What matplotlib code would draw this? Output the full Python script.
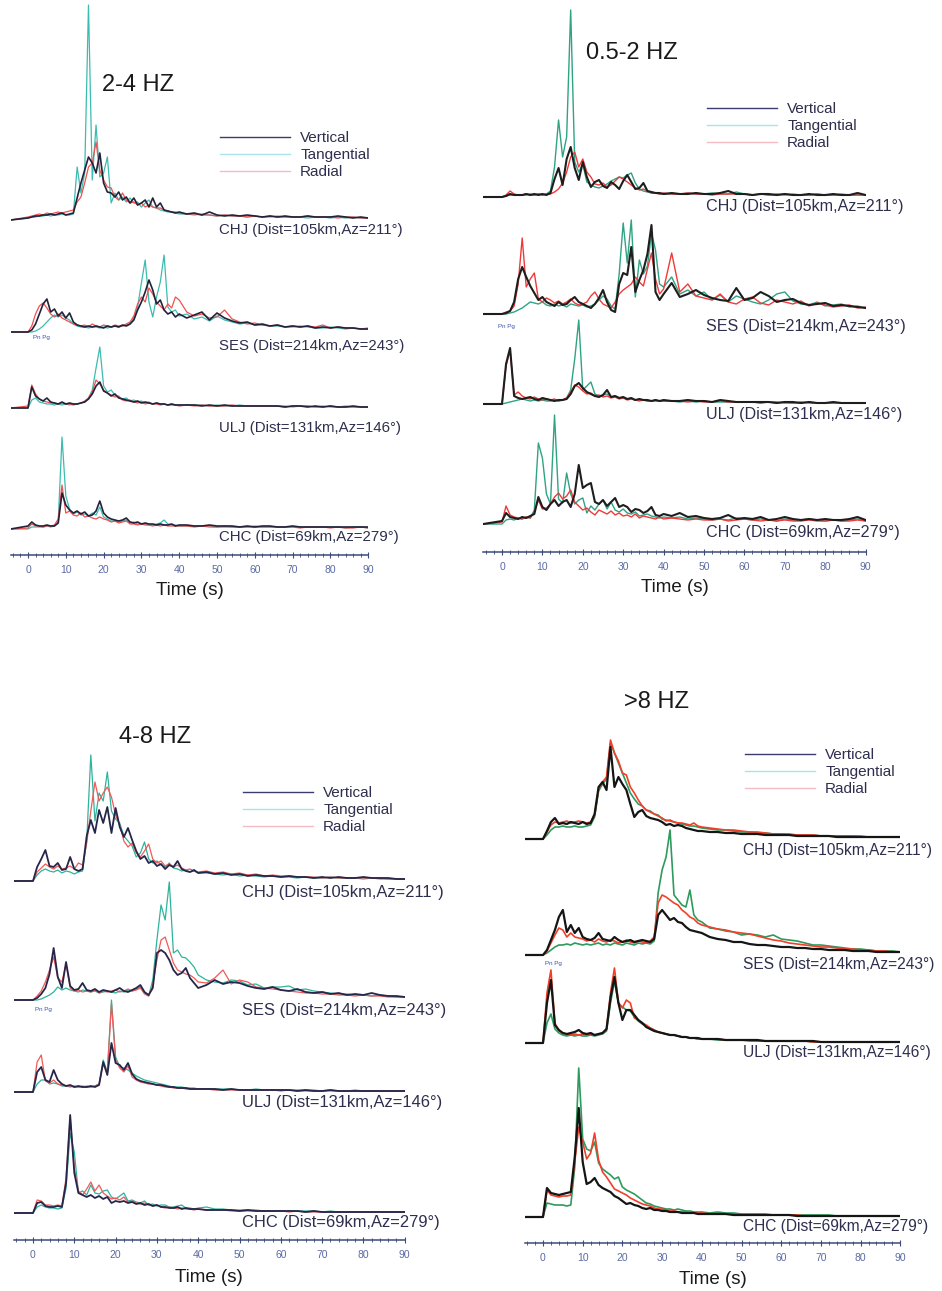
import matplotlib
matplotlib.use("Agg")
import matplotlib.pyplot as plt
from matplotlib.lines import Line2D
from matplotlib.ticker import MultipleLocator

plt.rcParams["font.family"] = ["Liberation Sans", "DejaVu Sans"]

W, H = 942, 1291

# sample times (s): 1 s steps up to 40 s, then 2 s steps
TIME = list(range(0, 41)) + list(range(42, 91, 2))
T_START = -4.6
T_END = 90
TICKS = list(range(0, 91, 10))

STATIONS = ["CHJ", "SES", "ULJ", "CHC"]
STATION_TEXT = ["CHJ (Dist=105km,Az=211°)", "SES (Dist=214km,Az=243°)",
                "ULJ (Dist=131km,Az=146°)", "CHC (Dist=69km,Az=279°)"]
COMPONENTS = ["Vertical", "Tangential", "Radial"]

# envelope amplitudes, 2-4 Hz
B24_CHJ_V = [2, 3, 4, 4, 5, 5, 6, 5, 6, 7, 5, 6, 7, 22, 37, 50, 63, 57, 47, 67, 37, 28, 27, 23, 28, 20, 23, 17, 22, 15, 17, 20, 13, 22, 13, 17, 10, 9, 8, 7, 8,
             6, 7, 5, 8, 5, 4, 5, 4, 5, 4, 3, 4, 3, 4, 3, 3, 4, 3, 3, 3, 4, 3, 2, 3, 2]
B24_CHJ_T = [2, 3, 3, 4, 4, 5, 4, 5, 5, 6, 5, 5, 6, 53, 27, 47, 215, 40, 95, 43, 47, 63, 17, 27, 20, 23, 18, 22, 17, 18, 13, 17, 20, 13, 12, 10, 9, 8, 8, 7, 6,
             6, 5, 6, 5, 4, 5, 4, 4, 3, 4, 3, 3, 4, 3, 3, 3, 2, 3, 3, 2, 3, 2, 3, 2, 2]
B24_CHJ_R = [3, 4, 5, 6, 5, 7, 6, 7, 8, 7, 8, 9, 10, 18, 23, 37, 53, 57, 78, 50, 40, 33, 32, 23, 20, 27, 20, 17, 18, 15, 17, 13, 15, 13, 12, 12, 10, 9, 8, 8, 7,
             6, 6, 5, 5, 4, 5, 4, 4, 3, 4, 3, 4, 3, 3, 3, 3, 4, 3, 3, 3, 2, 3, 3, 2, 2]
B24_SES_V = [0, 2, 8, 18, 28, 33, 20, 23, 16, 20, 14, 19, 10, 7, 6, 5, 6, 5, 6, 5, 4, 6, 5, 6, 5, 7, 6, 8, 12, 22, 30, 40, 52, 42, 28, 32, 22, 18, 20, 15, 18,
             14, 17, 20, 12, 19, 14, 11, 9, 10, 7, 8, 6, 7, 5, 6, 5, 6, 4, 5, 4, 5, 4, 4, 3, 3]
B24_SES_T = [0, 0, 1, 3, 6, 10, 14, 17, 15, 17, 14, 12, 8, 6, 5, 5, 4, 5, 5, 4, 5, 4, 5, 6, 5, 6, 7, 8, 14, 25, 49, 72, 30, 15, 35, 50, 77, 25, 20, 22, 16,
             18, 13, 15, 11, 16, 12, 10, 8, 9, 7, 7, 6, 6, 5, 5, 6, 5, 4, 4, 5, 4, 3, 4, 3, 3]
B24_SES_R = [0, 6, 18, 26, 29, 24, 18, 15, 18, 14, 12, 10, 8, 7, 6, 7, 5, 8, 6, 5, 7, 6, 5, 7, 6, 6, 8, 10, 16, 28, 35, 30, 44, 38, 30, 26, 22, 28, 24, 35, 32,
             20, 16, 18, 14, 15, 22, 13, 10, 8, 9, 7, 6, 7, 5, 6, 5, 6, 5, 7, 4, 5, 4, 4, 3, 4]
B24_ULJ_V = [0, 21, 12, 9, 7, 10, 6, 5, 4, 6, 4, 5, 4, 4, 5, 6, 9, 14, 22, 26, 17, 15, 12, 14, 10, 9, 8, 7, 6, 7, 5, 6, 5, 4, 5, 4, 4, 3, 4, 3, 3,
             3, 3, 2, 3, 2, 3, 2, 2, 2, 2, 2, 2, 2, 1, 2, 2, 1, 2, 1, 2, 1, 1, 2, 1, 1]
B24_ULJ_T = [0, 8, 10, 6, 5, 4, 4, 3, 4, 3, 4, 3, 4, 4, 5, 6, 10, 18, 40, 61, 22, 16, 18, 13, 11, 9, 10, 7, 8, 6, 7, 5, 6, 4, 5, 4, 4, 3, 4, 3, 3,
             3, 3, 3, 2, 3, 2, 2, 3, 2, 2, 2, 2, 2, 2, 1, 2, 2, 1, 2, 1, 1, 2, 1, 1, 1]
B24_ULJ_R = [2, 23, 14, 9, 7, 6, 5, 5, 4, 5, 4, 4, 3, 4, 5, 7, 10, 16, 28, 24, 18, 15, 13, 11, 12, 8, 7, 8, 6, 5, 6, 4, 5, 4, 4, 3, 4, 3, 3, 3, 2,
             3, 2, 3, 2, 2, 2, 3, 2, 2, 2, 2, 2, 2, 1, 2, 2, 2, 1, 1, 2, 1, 1, 1, 1, 1]
B24_CHC_V = [3, 7, 4, 3, 3, 4, 3, 3, 6, 36, 24, 19, 16, 18, 15, 17, 13, 14, 18, 28, 16, 12, 10, 9, 8, 9, 11, 7, 6, 7, 5, 6, 5, 5, 4, 5, 4, 4, 5, 3, 4,
             4, 3, 3, 4, 3, 3, 3, 2, 3, 2, 3, 3, 2, 2, 3, 2, 2, 2, 2, 2, 2, 2, 2, 2, 2]
B24_CHC_T = [0, 2, 2, 2, 2, 3, 2, 3, 8, 92, 33, 20, 15, 17, 14, 15, 13, 16, 14, 22, 12, 10, 8, 8, 7, 8, 9, 6, 7, 5, 5, 5, 4, 4, 5, 6, 9, 5, 4, 4, 3,
             3, 3, 3, 3, 2, 3, 2, 2, 2, 3, 2, 2, 2, 2, 2, 2, 2, 2, 2, 2, 2, 1, 2, 2, 1]
B24_CHC_R = [1, 5, 3, 3, 2, 3, 3, 4, 10, 44, 16, 18, 14, 13, 16, 12, 13, 11, 10, 12, 10, 9, 7, 8, 6, 7, 8, 5, 5, 4, 5, 4, 4, 3, 4, 3, 4, 3, 3, 3, 3,
             3, 2, 3, 2, 2, 2, 2, 2, 2, 2, 2, 2, 2, 2, 2, 1, 2, 2, 2, 1, 2, 1, 1, 2, 1]

# envelope amplitudes, 0.5-2 Hz
B05_CHJ_V = [0, 1, 3, 2, 2, 2, 3, 2, 3, 2, 3, 2, 4, 18, 29, 12, 38, 50, 29, 17, 35, 20, 10, 15, 17, 11, 9, 15, 12, 8, 16, 22, 15, 8, 9, 14, 6, 5, 4, 4, 3,
             4, 3, 3, 4, 3, 3, 4, 6, 3, 3, 2, 3, 3, 2, 3, 2, 2, 3, 2, 2, 3, 2, 2, 4, 2]
B05_CHJ_T = [0, 1, 2, 2, 2, 2, 2, 3, 2, 3, 2, 3, 6, 30, 77, 40, 60, 187, 35, 25, 33, 15, 12, 10, 9, 11, 13, 16, 18, 20, 19, 22, 24, 14, 8, 6, 5, 4, 4, 3, 3,
             3, 3, 4, 3, 3, 4, 3, 3, 5, 3, 2, 3, 2, 3, 2, 3, 2, 2, 3, 2, 2, 3, 2, 2, 2]
B05_CHJ_R = [0, 2, 6, 3, 2, 2, 3, 2, 2, 3, 2, 3, 3, 5, 8, 14, 25, 40, 45, 30, 38, 25, 20, 13, 12, 14, 10, 12, 16, 20, 18, 15, 12, 9, 7, 8, 6, 4, 4, 3, 4,
             3, 3, 4, 3, 3, 2, 3, 3, 3, 3, 2, 3, 2, 2, 3, 2, 2, 2, 3, 2, 2, 2, 2, 2, 2]
B05_SES_V = [0, 1, 3, 12, 35, 47, 37, 28, 21, 14, 17, 12, 10, 8, 12, 9, 10, 14, 17, 12, 10, 8, 6, 10, 16, 24, 12, 4, 2, 30, 41, 39, 67, 22, 34, 44, 60, 89, 22, 14, 20,
             31, 17, 20, 24, 19, 16, 14, 13, 26, 14, 16, 22, 18, 12, 14, 15, 11, 9, 10, 11, 8, 9, 8, 7, 6]
B05_SES_T = [0, 0, 1, 2, 4, 6, 9, 12, 11, 10, 12, 9, 8, 10, 8, 9, 7, 10, 9, 8, 9, 7, 8, 10, 14, 18, 15, 8, 5, 40, 91, 51, 94, 17, 54, 40, 48, 81, 64, 30, 27,
             37, 20, 24, 18, 22, 14, 19, 12, 18, 15, 12, 10, 14, 20, 22, 13, 10, 9, 12, 8, 9, 10, 7, 8, 6]
B05_SES_R = [0, 2, 3, 8, 30, 76, 27, 35, 41, 15, 12, 16, 14, 11, 13, 10, 12, 15, 11, 9, 10, 12, 18, 22, 15, 10, 8, 6, 12, 20, 24, 27, 30, 37, 32, 28, 45, 61, 35, 20, 25,
             61, 22, 30, 18, 16, 14, 20, 12, 10, 15, 17, 11, 9, 14, 12, 10, 13, 8, 11, 9, 7, 8, 9, 6, 7]
B05_ULJ_V = [0, 40, 56, 8, 6, 5, 6, 7, 5, 4, 6, 5, 4, 3, 4, 4, 5, 10, 18, 21, 16, 12, 10, 8, 7, 9, 14, 7, 8, 6, 7, 5, 6, 4, 5, 4, 4, 3, 4, 3, 4,
             3, 3, 4, 3, 3, 2, 4, 3, 2, 2, 2, 2, 2, 1, 2, 2, 1, 2, 1, 1, 2, 1, 1, 1, 1]
B05_ULJ_T = [0, 1, 2, 3, 4, 5, 4, 3, 4, 3, 4, 3, 3, 4, 3, 4, 6, 14, 45, 84, 14, 18, 22, 10, 8, 9, 10, 7, 8, 6, 6, 5, 5, 4, 4, 4, 3, 3, 3, 3, 3,
             3, 2, 3, 2, 3, 2, 2, 2, 2, 2, 2, 1, 2, 1, 2, 1, 1, 2, 1, 1, 1, 1, 1, 1, 1]
B05_ULJ_R = [0, 38, 54, 9, 12, 8, 6, 5, 7, 5, 4, 5, 4, 5, 3, 4, 6, 12, 19, 17, 13, 10, 11, 8, 9, 7, 8, 6, 7, 5, 6, 4, 5, 4, 3, 4, 3, 3, 4, 3, 3,
             3, 3, 2, 3, 2, 2, 3, 2, 2, 2, 2, 1, 2, 2, 1, 1, 2, 1, 1, 1, 1, 1, 1, 1, 1]
B05_CHC_V = [3, 11, 7, 6, 5, 7, 6, 8, 10, 27, 17, 14, 20, 24, 18, 22, 24, 17, 30, 59, 36, 39, 41, 22, 20, 24, 18, 22, 26, 17, 19, 17, 12, 15, 14, 11, 13, 17, 9, 8, 10,
             8, 11, 7, 8, 6, 5, 6, 9, 5, 6, 5, 7, 4, 5, 7, 5, 4, 5, 4, 5, 4, 4, 5, 7, 4]
B05_CHC_T = [0, 4, 5, 4, 6, 5, 7, 6, 14, 81, 66, 30, 20, 109, 25, 21, 51, 30, 20, 24, 26, 11, 18, 14, 20, 24, 15, 22, 14, 12, 15, 11, 10, 12, 8, 9, 10, 8, 7, 6, 7,
             6, 7, 5, 6, 5, 4, 5, 4, 6, 5, 4, 5, 4, 3, 5, 4, 4, 5, 4, 3, 4, 3, 4, 5, 3]
B05_CHC_R = [2, 18, 9, 7, 6, 5, 7, 6, 12, 24, 15, 16, 20, 27, 31, 25, 28, 34, 22, 18, 14, 16, 12, 9, 14, 12, 10, 13, 9, 11, 8, 9, 7, 10, 6, 8, 7, 6, 5, 7, 5,
             6, 5, 4, 5, 4, 4, 5, 3, 4, 5, 4, 3, 4, 3, 4, 3, 3, 4, 3, 3, 4, 3, 3, 4, 3]

# envelope amplitudes, 4-8 Hz
B48_CHJ_V = [0, 14, 22, 31, 15, 14, 18, 11, 12, 24, 12, 10, 12, 45, 61, 48, 71, 58, 74, 48, 73, 54, 44, 53, 41, 30, 22, 25, 18, 20, 15, 17, 12, 16, 14, 20, 12, 10, 9, 11, 8,
             9, 7, 8, 6, 7, 5, 6, 5, 5, 4, 5, 4, 4, 3, 4, 3, 4, 3, 3, 4, 3, 3, 3, 2, 2]
B48_CHJ_T = [0, 6, 10, 12, 10, 9, 11, 8, 10, 9, 7, 9, 10, 40, 126, 60, 88, 80, 109, 70, 62, 58, 45, 40, 35, 24, 28, 39, 22, 18, 20, 16, 14, 18, 13, 12, 10, 11, 9, 10, 8,
             8, 7, 6, 7, 5, 6, 5, 4, 5, 4, 4, 3, 4, 3, 3, 4, 3, 3, 3, 2, 3, 3, 2, 2, 2]
B48_CHJ_R = [0, 9, 13, 17, 14, 12, 15, 12, 13, 15, 12, 18, 16, 38, 70, 99, 80, 88, 94, 84, 66, 56, 40, 34, 38, 28, 24, 30, 37, 22, 18, 20, 15, 17, 14, 16, 13, 11, 12, 10, 9,
             10, 8, 9, 7, 8, 6, 7, 5, 6, 5, 5, 4, 4, 4, 3, 4, 3, 3, 3, 3, 3, 2, 2, 2, 2]
B48_SES_V = [0, 2, 6, 12, 26, 52, 23, 12, 38, 14, 10, 11, 17, 10, 9, 11, 8, 10, 9, 8, 10, 12, 9, 8, 10, 12, 15, 8, 5, 12, 47, 50, 47, 40, 30, 25, 27, 32, 22, 17, 12,
             15, 20, 16, 18, 17, 14, 12, 11, 13, 10, 9, 11, 8, 7, 8, 6, 7, 5, 6, 5, 7, 5, 4, 4, 3]
B48_SES_T = [0, 0, 1, 3, 5, 8, 13, 10, 12, 10, 9, 8, 10, 9, 8, 9, 7, 8, 9, 8, 7, 9, 8, 10, 9, 11, 13, 7, 4, 20, 60, 95, 80, 118, 47, 50, 43, 42, 38, 33, 25,
             20, 18, 17, 20, 19, 15, 16, 12, 13, 13, 14, 10, 11, 9, 8, 7, 6, 6, 5, 5, 4, 5, 4, 3, 3]
B48_SES_R = [0, 4, 9, 18, 30, 43, 22, 18, 36, 12, 9, 10, 8, 9, 8, 10, 7, 9, 8, 9, 10, 8, 9, 11, 9, 10, 12, 6, 4, 15, 40, 60, 63, 50, 37, 30, 28, 26, 25, 22, 18,
             17, 22, 30, 16, 20, 18, 13, 12, 11, 10, 9, 8, 7, 7, 6, 6, 5, 5, 4, 5, 4, 4, 3, 3, 3]
B48_ULJ_V = [0, 20, 25, 12, 10, 22, 12, 8, 6, 7, 5, 6, 5, 5, 6, 5, 7, 30, 17, 49, 29, 27, 22, 29, 18, 13, 11, 10, 9, 8, 7, 7, 6, 5, 5, 4, 4, 4, 3, 3, 3,
             3, 3, 2, 3, 2, 2, 2, 2, 2, 2, 2, 1, 2, 1, 1, 2, 1, 1, 1, 1, 1, 1, 1, 1, 1]
B48_ULJ_T = [0, 8, 12, 12, 8, 9, 8, 6, 6, 5, 6, 5, 5, 6, 5, 6, 8, 32, 20, 92, 35, 25, 24, 22, 19, 16, 14, 12, 11, 10, 9, 8, 7, 6, 5, 5, 5, 4, 4, 4, 3,
             3, 3, 3, 3, 2, 2, 3, 2, 2, 2, 2, 2, 2, 2, 1, 2, 1, 1, 2, 1, 1, 1, 1, 1, 1]
B48_ULJ_R = [0, 30, 37, 11, 9, 12, 8, 7, 6, 6, 5, 5, 6, 5, 5, 6, 8, 28, 20, 88, 32, 24, 20, 26, 15, 12, 10, 9, 8, 8, 7, 6, 5, 5, 4, 4, 4, 3, 3, 3, 3,
             3, 2, 2, 2, 2, 2, 2, 2, 2, 1, 2, 1, 1, 1, 1, 1, 1, 1, 1, 1, 1, 1, 1, 1, 1]
B48_CHC_V = [0, 10, 11, 7, 6, 6, 7, 6, 30, 98, 40, 20, 18, 16, 18, 15, 17, 14, 16, 10, 12, 11, 12, 10, 11, 9, 10, 8, 9, 7, 8, 6, 6, 5, 5, 6, 4, 5, 4, 4, 4,
             3, 3, 3, 3, 2, 3, 2, 2, 2, 2, 2, 2, 1, 2, 1, 1, 1, 1, 1, 1, 1, 1, 1, 1, 1]
B48_CHC_T = [0, 6, 8, 6, 5, 5, 4, 5, 25, 80, 61, 20, 22, 18, 28, 20, 19, 22, 23, 16, 14, 17, 20, 12, 13, 11, 10, 12, 8, 9, 7, 8, 8, 6, 6, 7, 8, 5, 5, 4, 5,
             6, 4, 4, 3, 3, 3, 3, 2, 2, 2, 2, 2, 2, 2, 1, 2, 1, 1, 1, 1, 1, 1, 1, 1, 1]
B48_CHC_R = [0, 13, 12, 8, 8, 7, 8, 7, 35, 96, 45, 22, 18, 24, 31, 22, 28, 20, 17, 14, 15, 13, 16, 11, 12, 10, 9, 10, 8, 7, 8, 6, 5, 6, 5, 4, 5, 4, 4, 3, 4,
             3, 3, 3, 2, 2, 2, 2, 2, 2, 2, 1, 2, 1, 1, 1, 1, 1, 1, 1, 1, 1, 1, 1, 1, 1]

# envelope amplitudes, >8 Hz
B8_CHJ_V = [0, 8, 17, 21, 15, 16, 15, 17, 16, 15, 17, 15, 16, 25, 52, 57, 49, 92, 52, 62, 55, 49, 35, 22, 27, 29, 23, 21, 20, 19, 17, 14, 15, 13, 14, 13, 11, 10, 9, 8, 8,
            7, 7, 6, 6, 5, 5, 5, 4, 4, 4, 4, 3, 3, 3, 3, 3, 2, 2, 2, 2, 2, 2, 2, 2, 2]
B8_CHJ_T = [0, 4, 9, 12, 12, 13, 12, 12, 13, 12, 12, 13, 14, 22, 48, 55, 60, 96, 86, 76, 66, 56, 46, 40, 35, 33, 29, 28, 25, 24, 20, 19, 18, 17, 16, 15, 14, 13, 13, 12, 11,
            10, 9, 9, 8, 7, 7, 6, 6, 5, 5, 4, 4, 4, 4, 3, 3, 3, 3, 3, 2, 2, 2, 2, 2, 2]
B8_CHJ_R = [0, 7, 14, 17, 16, 17, 18, 16, 17, 18, 17, 16, 17, 24, 50, 57, 62, 99, 86, 78, 66, 64, 52, 46, 39, 33, 29, 27, 25, 23, 21, 18, 19, 17, 16, 16, 15, 14, 16, 13, 12,
            11, 10, 9, 9, 8, 7, 7, 6, 5, 5, 5, 4, 4, 4, 3, 3, 3, 3, 3, 3, 2, 2, 2, 2, 2]
B8_SES_V = [0, 5, 15, 25, 38, 45, 23, 30, 22, 27, 18, 16, 15, 17, 22, 16, 15, 14, 18, 15, 13, 14, 15, 13, 14, 15, 14, 13, 16, 40, 45, 40, 35, 37, 33, 32, 28, 25, 24, 23, 22,
            18, 16, 15, 13, 13, 11, 10, 10, 9, 8, 8, 7, 7, 6, 6, 5, 5, 5, 4, 4, 4, 3, 3, 3, 3]
B8_SES_T = [0, 2, 5, 8, 10, 10, 11, 10, 12, 11, 10, 11, 10, 11, 12, 10, 11, 10, 12, 11, 10, 12, 11, 10, 12, 11, 12, 11, 14, 62, 85, 98, 125, 60, 55, 50, 48, 65, 40, 35, 33,
            27, 26, 24, 23, 20, 21, 20, 18, 20, 16, 15, 14, 12, 10, 10, 9, 8, 7, 6, 6, 5, 4, 4, 4, 3]
B8_SES_R = [0, 4, 12, 20, 27, 25, 18, 22, 18, 17, 16, 14, 15, 13, 16, 14, 13, 15, 14, 12, 13, 15, 13, 12, 14, 13, 12, 14, 18, 52, 60, 58, 55, 52, 50, 45, 42, 38, 36, 32, 30,
            28, 26, 25, 23, 22, 21, 19, 17, 15, 14, 12, 11, 10, 9, 8, 8, 7, 6, 6, 5, 5, 4, 4, 3, 3]
B8_ULJ_V = [0, 40, 63, 18, 13, 10, 9, 10, 11, 13, 10, 9, 10, 8, 9, 10, 14, 45, 66, 40, 23, 33, 33, 28, 23, 20, 16, 14, 12, 11, 10, 9, 8, 8, 7, 6, 6, 5, 5, 5, 4,
            4, 4, 3, 3, 3, 3, 3, 2, 2, 2, 2, 2, 2, 2, 1, 1, 1, 1, 1, 1, 1, 1, 1, 1, 1]
B8_ULJ_T = [0, 20, 29, 14, 10, 8, 7, 8, 7, 8, 7, 7, 8, 7, 8, 9, 12, 40, 62, 40, 36, 33, 32, 26, 22, 19, 17, 15, 13, 11, 10, 9, 8, 8, 7, 6, 6, 5, 5, 4, 4,
            4, 3, 3, 3, 3, 2, 2, 2, 2, 2, 2, 2, 2, 1, 1, 1, 1, 1, 1, 1, 1, 1, 1, 1, 1]
B8_ULJ_R = [0, 50, 73, 20, 12, 10, 9, 8, 9, 8, 9, 8, 9, 8, 9, 10, 14, 50, 75, 40, 35, 43, 40, 25, 23, 20, 18, 15, 13, 11, 10, 9, 8, 8, 7, 6, 6, 5, 5, 4, 4,
            4, 4, 3, 3, 3, 3, 2, 2, 2, 2, 2, 2, 2, 1, 1, 1, 1, 1, 1, 1, 1, 1, 1, 1, 1]
B8_CHC_V = [0, 29, 24, 23, 22, 23, 24, 25, 60, 109, 55, 33, 35, 39, 32, 29, 27, 25, 21, 19, 16, 13, 14, 12, 11, 9, 8, 9, 7, 7, 6, 6, 5, 5, 5, 4, 4, 4, 4, 3, 3,
            3, 3, 3, 2, 2, 2, 2, 2, 2, 2, 2, 1, 1, 1, 1, 1, 1, 1, 1, 1, 1, 1, 1, 1, 1]
B8_CHC_T = [0, 14, 13, 12, 12, 12, 11, 12, 50, 149, 78, 68, 66, 75, 54, 48, 45, 42, 38, 40, 30, 27, 25, 23, 20, 17, 14, 13, 11, 10, 9, 8, 8, 7, 8, 7, 6, 6, 5, 5, 5,
            4, 5, 4, 4, 3, 3, 3, 3, 2, 2, 2, 2, 2, 2, 2, 2, 1, 1, 1, 1, 1, 1, 1, 1, 1]
B8_CHC_R = [0, 27, 22, 21, 20, 21, 21, 22, 55, 90, 75, 58, 64, 84, 57, 45, 40, 34, 28, 26, 24, 22, 19, 17, 15, 13, 12, 11, 9, 8, 8, 7, 6, 6, 5, 5, 5, 4, 4, 4, 4,
            3, 3, 3, 3, 2, 2, 2, 2, 2, 2, 2, 2, 1, 1, 1, 1, 1, 1, 1, 1, 1, 1, 1, 1, 1]

TRACES = {
    "2-4 HZ": {"CHJ": (B24_CHJ_V, B24_CHJ_T, B24_CHJ_R), "SES": (B24_SES_V, B24_SES_T, B24_SES_R),
               "ULJ": (B24_ULJ_V, B24_ULJ_T, B24_ULJ_R), "CHC": (B24_CHC_V, B24_CHC_T, B24_CHC_R)},
    "0.5-2 HZ": {"CHJ": (B05_CHJ_V, B05_CHJ_T, B05_CHJ_R), "SES": (B05_SES_V, B05_SES_T, B05_SES_R),
                 "ULJ": (B05_ULJ_V, B05_ULJ_T, B05_ULJ_R), "CHC": (B05_CHC_V, B05_CHC_T, B05_CHC_R)},
    "4-8 HZ": {"CHJ": (B48_CHJ_V, B48_CHJ_T, B48_CHJ_R), "SES": (B48_SES_V, B48_SES_T, B48_SES_R),
               "ULJ": (B48_ULJ_V, B48_ULJ_T, B48_ULJ_R), "CHC": (B48_CHC_V, B48_CHC_T, B48_CHC_R)},
    ">8 HZ": {"CHJ": (B8_CHJ_V, B8_CHJ_T, B8_CHJ_R), "SES": (B8_SES_V, B8_SES_T, B8_SES_R),
              "ULJ": (B8_ULJ_V, B8_ULJ_T, B8_ULJ_R), "CHC": (B8_CHC_V, B8_CHC_T, B8_CHC_R)},
}

# panel geometry in pixels of the 942x1291 page
LAYOUT = [
    dict(band="2-4 HZ", t0_px=28, px_per_s=3.78, axis_y=555, top=0,
         base=[220, 332, 408, 529], label_y=[230, 346, 428, 537], label_size=10.8,
         legend_xy=(220, 131), title_xy=(138, 85), xlabel_xy=(190, 590), pnpg_xy=(33, 338),
         colors=("#22223a", "#3cbcb0", "#f05050"), widths=(0.9, 1.2)),
    dict(band="0.5-2 HZ", t0_px=502, px_per_s=4.04, axis_y=552, top=0,
         base=[197, 314, 404, 524], label_y=[207, 327, 415, 533], label_size=11.6,
         legend_xy=(707, 102), title_xy=(632, 53), xlabel_xy=(675, 588), pnpg_xy=(498, 327),
         colors=("#1e1e1e", "#2fa383", "#f03a3a"), widths=(1.0, 1.5)),
    dict(band="4-8 HZ", t0_px=33, px_per_s=4.13, axis_y=1240, top=660,
         base=[881, 1000, 1092, 1213], label_y=[893, 1010, 1102, 1223], label_size=11.9,
         legend_xy=(243, 786), title_xy=(155, 737), xlabel_xy=(209, 1278), pnpg_xy=(35, 1010),
         colors=("#26264a", "#2fb39a", "#f05a5a"), widths=(0.9, 1.3)),
    dict(band=">8 HZ", t0_px=543, px_per_s=3.97, axis_y=1243, top=660,
         base=[839, 955, 1043, 1217], label_y=[850, 964, 1053, 1227], label_size=11.2,
         legend_xy=(745, 748), title_xy=(657, 702), xlabel_xy=(713, 1279), pnpg_xy=(545, 963),
         colors=("#151515", "#2e9a5e", "#f0402a"), widths=(1.2, 1.6)),
]
LEGEND_COLORS = ("#3c3c6e", "#a6e6ea", "#f6bcc4")
TEXT_COLOR = "#2e2e4e"
TICK_COLOR = "#5b6aa5"


def fx(px):
    return px / W


def fy(py):
    return 1 - py / H


fig = plt.figure(figsize=(W / 100, H / 100), dpi=100)
fig.patch.set_facecolor("white")

for lay in LAYOUT:
    pps = lay["px_per_s"]
    left_px = lay["t0_px"] + pps * T_START
    width_px = pps * (T_END - T_START)
    height_px = lay["axis_y"] - lay["top"]
    ax = fig.add_axes([fx(left_px), fy(lay["axis_y"]), width_px / W, height_px / H])
    ax.patch.set_visible(False)
    ax.set_xlim(T_START, T_END)
    ax.set_ylim(0, height_px)

    for side in ("left", "right", "top"):
        ax.spines[side].set_visible(False)
    ax.spines["bottom"].set_color("#3a4a7a")
    ax.spines["bottom"].set_linewidth(1.1)
    ax.set_yticks([])
    ax.set_xticks(TICKS)
    ax.xaxis.set_minor_locator(MultipleLocator(2))
    ax.tick_params(axis="x", which="major", direction="inout", length=4, width=0.8,
                   colors="#3a4a7a", labelcolor=TICK_COLOR, labelsize=7.5, pad=5)
    ax.tick_params(axis="x", which="minor", direction="inout", length=2.5, width=0.6, colors="#3a4a7a")

    t = [T_START] + TIME
    c_v, c_t, c_r = lay["colors"]
    lw_thin, lw_vert = lay["widths"]
    for i, st in enumerate(STATIONS):
        off = lay["axis_y"] - lay["base"][i]
        vert, tang, rad = TRACES[lay["band"]][st]
        ax.plot(t, [off] + [off + a for a in tang], color=c_t, lw=lw_thin, zorder=2)
        ax.plot(t, [off] + [off + a for a in rad], color=c_r, lw=lw_thin, zorder=3)
        ax.plot(t, [off] + [off + a for a in vert], color=c_v, lw=lw_vert, zorder=4)
        ax.text(50.5, lay["axis_y"] - lay["label_y"][i], STATION_TEXT[i],
                ha="left", va="center", fontsize=lay["label_size"], color=TEXT_COLOR)

    # Pn / Pg marks under the SES trace
    fig.text(fx(lay["pnpg_xy"][0]), fy(lay["pnpg_xy"][1]), "Pn Pg", fontsize=4.5,
             color="#3a50b0", ha="left", va="center")

    handles = [Line2D([], [], color=c, lw=1.0) for c in LEGEND_COLORS]
    ax.legend(handles, COMPONENTS, loc="upper left",
              bbox_to_anchor=(fx(lay["legend_xy"][0]), fy(lay["legend_xy"][1])),
              bbox_transform=fig.transFigure, frameon=False, fontsize=11,
              handlelength=4.6, handletextpad=0.65, labelspacing=0.2,
              borderpad=0, borderaxespad=0, labelcolor=TEXT_COLOR)

    fig.text(fx(lay["title_xy"][0]), fy(lay["title_xy"][1]), lay["band"],
             fontsize=17, ha="center", va="center", color="#1a1a1a")
    fig.text(fx(lay["xlabel_xy"][0]), fy(lay["xlabel_xy"][1]), "Time (s)",
             fontsize=13.5, ha="center", va="center", color="#1a1a1a")

fig.savefig("out.png", dpi=100, facecolor="white")
